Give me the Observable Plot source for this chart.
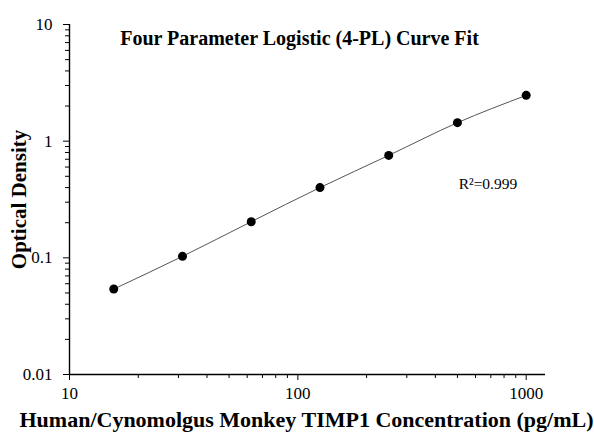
<!DOCTYPE html>
<html><head><meta charset="utf-8">
<script src="https://cdn.jsdelivr.net/npm/d3@7"></script>
<script src="https://cdn.jsdelivr.net/npm/@observablehq/plot@0.6"></script>
<style>
body{margin:0;background:#fff}
svg{font-family:"Liberation Serif","Times New Roman",serif}
</style>
</head><body><div id="chart"></div>
<script>
const concentrations = [15.625, 31.25, 62.5, 125, 250, 500, 1000];
const opticalDensity = [0.054, 0.103, 0.204, 0.40, 0.755, 1.44, 2.47];
const xMajorTicks = [10, 100, 1000];
const xMinorTicks = [20,30,40,50,60,70,80,90,200,300,400,500,600,700,800,900];
const yMajorTicks = [0.01, 0.1, 1, 10];
const yMinorTicks = [0.02,0.03,0.04,0.05,0.06,0.07,0.08,0.09,0.2,0.3,0.4,0.5,0.6,0.7,0.8,0.9,2,3,4,5,6,7,8,9];
const titleText = "Four Parameter Logistic (4-PL) Curve Fit";
const xLabelText = "Human/Cynomolgus Monkey TIMP1 Concentration (pg/mL)";
const yLabelText = "Optical Density";
const r2Text = "R²=0.999";

const data = concentrations.map((c, i) => ({c, od: opticalDensity[i]}));
const fmt = d => String(d);

const chart = Plot.plot({
  width: 594, height: 432,
  marginLeft: 69, marginRight: 49, marginTop: 24, marginBottom: 58,
  style: {fontFamily: '"Liberation Serif","Times New Roman",serif', fontSize: "16px", background: "#fff", color: "#000"},
  x: {type: "log", domain: [10, 1215]},
  y: {type: "log", domain: [0.01, 10]},
  marks: [
    Plot.axisX({ticks: xMinorTicks, tickSize: 4, tickFormat: () => "", label: null, stroke: "#000"}),
    Plot.axisX({ticks: xMajorTicks, tickSize: 6, tickPadding: 6, tickFormat: fmt, fontSize: 17, label: null, stroke: "#000"}),
    Plot.axisY({ticks: yMinorTicks, tickSize: 4, tickFormat: () => "", label: null, stroke: "#000"}),
    Plot.axisY({ticks: yMajorTicks, tickSize: 6, tickPadding: 11, tickFormat: fmt, fontSize: 17, label: null, stroke: "#000"}),
    Plot.ruleY([0.01], {stroke: "#000", strokeWidth: 1.4}),
    Plot.ruleX([10], {stroke: "#000", strokeWidth: 1.4}),
    Plot.line(data, {x: "c", y: "od", curve: "monotone-x", stroke: "#555", strokeWidth: 1}),
    Plot.dot(data, {x: "c", y: "od", r: 4.5, fill: "#000", stroke: "none"}),
    Plot.text([titleText], {frameAnchor: "top", lineAnchor: "middle", textAnchor: "middle", dx: -8, dy: 14, fontSize: 20, fontWeight: "bold"}),
    Plot.text([r2Text], {x: 680, y: 0.426, fontSize: 15.5}),
    Plot.text([xLabelText], {frameAnchor: "bottom", lineAnchor: "middle", textAnchor: "middle", dx: -1, dy: 45, fontSize: 22, fontWeight: "bold"}),
    Plot.text([yLabelText], {frameAnchor: "left", lineAnchor: "middle", textAnchor: "middle", dx: -50, rotate: -90, fontSize: 21, fontWeight: "bold"})
  ]
});
document.getElementById("chart").appendChild(chart);
</script>
</body></html>
